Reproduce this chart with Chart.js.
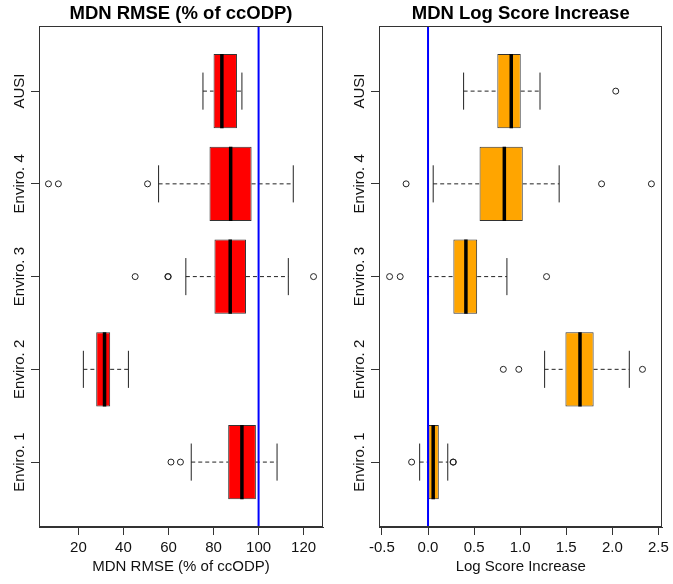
<!DOCTYPE html>
<html lang="en">
<head>
  <meta charset="UTF-8" />
  <title>MDN boxplots</title>
  <script src="https://cdn.jsdelivr.net/npm/chart.js"></script>
  <style>
    body {
      margin: 0;
      background: #ffffff;
    }
    .wrap {
      position: relative;
      width: 673px;
      height: 584px;
    }
    #left, #right {
      position: absolute;
      top: 0;
    }
    #left { left: 0; }
    #right { left: 336px; }
  </style>
</head>
<body>
  <div class="wrap">
    <canvas id="left" width="336" height="584"></canvas>
    <canvas id="right" width="337" height="584"></canvas>
  </div>

  <script>
    // categories, bottom to top
    const categories = ['Enviro. 1', 'Enviro. 2', 'Enviro. 3', 'Enviro. 4', 'AUSI'];

    // MDN RMSE (% of ccODP)
    const rmseLow = [70.1, 22.2, 67.7, 55.6, 75.3];
    const rmseQ1 = [86.5, 27.9, 80.4, 78.2, 80.0];
    const rmseMedian = [92.6, 31.6, 87.4, 87.6, 83.7];
    const rmseQ3 = [98.8, 34.1, 94.4, 96.9, 90.4];
    const rmseHigh = [108.2, 42.2, 113.2, 115.4, 92.6];
    const rmseOutliers = [[61.1, 65.3], [], [45.2, 59.7, 59.9, 124.4], [6.7, 11.1, 50.7], []];
    const rmseTicks = [20, 40, 60, 80, 100, 120];

    // MDN Log Score Increase
    const logLow = [-0.091, 1.265, -0.005, 0.056, 0.386];
    const logQ1 = [0.005, 1.491, 0.275, 0.559, 0.752];
    const logMedian = [0.056, 1.649, 0.411, 0.828, 0.903];
    const logQ3 = [0.117, 1.797, 0.533, 1.028, 1.006];
    const logHigh = [0.214, 2.184, 0.856, 1.423, 1.215];
    const logOutliers = [[-0.178, 0.271, 0.275], [0.817, 0.985, 2.327], [-0.417, -0.302, 1.286], [-0.238, 1.883, 2.424], [2.037]];
    const logTicks = [-0.5, 0, 0.5, 1.0, 1.5, 2.0, 2.5];

    Chart.defaults.font.family = "'Liberation Sans', Arial, sans-serif";
    Chart.defaults.color = '#000';

    const frame = {
      id: 'frame',
      afterDraw(chart) {
        const a = chart.chartArea;
        const ctx = chart.ctx;
        ctx.save();
        ctx.strokeStyle = '#333';
        ctx.lineWidth = 1;
        ctx.strokeRect(Math.round(a.left) + 0.5, Math.round(a.top) + 0.5,
          Math.round(a.right - a.left) - 1, Math.round(a.bottom - a.top) - 1);
        ctx.restore();
      }
    };

    // rotated category names on the y axis
    const catLabels = {
      id: 'catLabels',
      afterDraw(chart) {
        const ctx = chart.ctx;
        const y = chart.scales.y;
        ctx.save();
        ctx.font = "15px 'Liberation Sans', Arial, sans-serif";
        ctx.fillStyle = '#111';
        ctx.textAlign = 'center';
        ctx.textBaseline = 'middle';
        categories.forEach((c, i) => {
          ctx.save();
          ctx.translate(chart.chartArea.left - 19, y.getPixelForValue(i + 1));
          ctx.rotate(-Math.PI / 2);
          ctx.fillText(c, 0, 0);
          ctx.restore();
        });
        ctx.restore();
      }
    };

    function seg(x1, y1, x2, y2, opts) {
      return Object.assign({
        type: 'line',
        data: [{x: x1, y: y1}, {x: x2, y: y2}],
        borderColor: '#222',
        borderWidth: 1,
        pointRadius: 0,
        fill: false
      }, opts);
    }

    function makeChart(id, o) {
      const datasets = [];
      // reference line
      datasets.push(seg(o.ref, 0, o.ref, 6, {borderColor: '#0000ff', borderWidth: 2, order: 0}));
      categories.forEach((c, i) => {
        const p = i + 1;
        datasets.push(seg(o.median[i], p - 0.4, o.median[i], p + 0.4, {borderColor: '#000', borderWidth: 3.5, order: 1}));
        datasets.push(seg(o.low[i], p, o.q1[i], p, {borderDash: [4, 3], order: 3}));
        datasets.push(seg(o.q3[i], p, o.high[i], p, {borderDash: [4, 3], order: 3}));
        datasets.push(seg(o.low[i], p - 0.2, o.low[i], p + 0.2, {order: 3}));
        datasets.push(seg(o.high[i], p - 0.2, o.high[i], p + 0.2, {order: 3}));
      });
      datasets.push({
        type: 'line',
        showLine: false,
        data: o.outliers.flatMap((arr, i) => arr.map(v => ({x: v, y: i + 1}))),
        pointRadius: 3,
        pointBorderWidth: 1,
        pointBorderColor: '#222',
        pointBackgroundColor: 'rgba(0,0,0,0)',
        order: 1
      });
      datasets.push({
        type: 'bar',
        indexAxis: 'y',
        data: categories.map((c, i) => ({x: [o.q1[i], o.q3[i]], y: i + 1})),
        backgroundColor: o.color,
        borderColor: '#333',
        borderWidth: 1,
        borderSkipped: false,
        barPercentage: 0.8,
        categoryPercentage: 1,
        order: 2
      });

      return new Chart(document.getElementById(id), {
        type: 'bar',
        data: {datasets: datasets},
        options: {
          responsive: false,
          animation: false,
          indexAxis: 'y',
          layout: {padding: {left: 0, right: o.padRight, top: 0, bottom: 0}},
          plugins: {
            legend: {display: false},
            tooltip: {enabled: false},
            title: {
              display: true,
              text: o.title,
              fullSize: false,
              color: '#000',
              font: {size: 18.5, weight: 'bold'},
              padding: {top: 3, bottom: 1}
            }
          },
          scales: {
            x: {
              type: 'linear',
              min: o.min,
              max: o.max,
              offset: false,
              afterBuildTicks: s => { s.ticks = o.ticks.map(v => ({value: v})); },
              afterFit: s => { s.height = 57; },
              ticks: {
                font: {size: 15},
                color: '#111',
                padding: 4,
                callback: o.fmt
              },
              grid: {drawOnChartArea: false, drawTicks: true, tickLength: 8, tickColor: '#333', offset: false},
              border: {display: true, color: '#333'},
              title: {display: true, text: o.xTitle, font: {size: 15}, color: '#111', padding: {top: 0, bottom: 8}}
            },
            y: {
              type: 'linear',
              min: 0.3,
              max: 5.7,
              offset: false,
              afterBuildTicks: s => { s.ticks = [1, 2, 3, 4, 5].map(v => ({value: v})); },
              afterFit: s => { s.width = o.yWidth; },
              ticks: {display: false},
              grid: {drawOnChartArea: false, drawTicks: true, tickLength: 8, tickColor: '#333', offset: false},
              border: {display: true, color: '#333'}
            }
          }
        },
        plugins: [frame, catLabels]
      });
    }

    makeChart('left', {
      title: 'MDN RMSE (% of ccODP)',
      xTitle: 'MDN RMSE (% of ccODP)',
      low: rmseLow, q1: rmseQ1, median: rmseMedian, q3: rmseQ3, high: rmseHigh,
      outliers: rmseOutliers, ticks: rmseTicks,
      min: 2.5, max: 128.6, ref: 100, color: '#ff0000',
      yWidth: 39, padRight: 13,
      fmt: v => String(v)
    });

    makeChart('right', {
      title: 'MDN Log Score Increase',
      xTitle: 'Log Score Increase',
      low: logLow, q1: logQ1, median: logMedian, q3: logQ3, high: logHigh,
      outliers: logOutliers, ticks: logTicks,
      min: -0.532, max: 2.543, ref: 0, color: '#ffa500',
      yWidth: 43, padRight: 8,
      fmt: v => Number(v).toFixed(1)
    });
  </script>
</body>
</html>
